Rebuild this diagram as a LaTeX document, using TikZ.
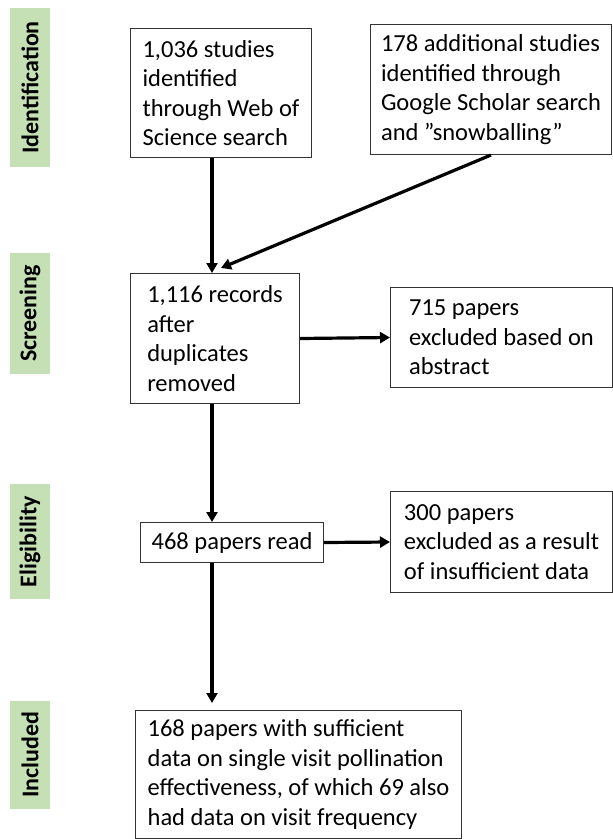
\documentclass[tikz,border=0pt]{standalone}
\usepackage{fontspec}
\setmainfont{Carlito}
\usetikzlibrary{arrows.meta,positioning}
\definecolor{stagegreen}{HTML}{C5E0B4}

\begin{document}
\begin{tikzpicture}[x=1pt, y=-1pt,
  font=\fontsize{24.5}{29.5}\selectfont,
  box/.style={draw=black!80, line width=1pt, align=left, anchor=north west, inner sep=0pt},
  stage/.style={fill=stagegreen, rotate=90, minimum height=40pt, inner sep=0pt, font=\fontsize{24}{28}\selectfont\bfseries},
  arr/.style={-{Triangle[length=10pt, width=11pt]}, line width=3.2pt}
]
\useasboundingbox (0,0) rectangle (613,839);
% stages on the left
\node[stage, minimum width=159pt] (ident) at (30,87.5) {Identification};
\node[stage, minimum width=121pt] (screen) at (30,313.5) {Screening};
\node[stage, minimum width=115pt] (elig) at (30,541.5) {Eligibility};
\node[stage, minimum width=108pt] (incl) at (30,755) {Included};
% flow boxes
\node[box, minimum width=181pt, minimum height=129pt] (wos) at (130,28) {1,036 studies\\identified\\through Web of\\Science search};
\node[box, minimum width=241pt, minimum height=130pt] (gs) at (370,24) {178 additional studies\\identified through\\Google Scholar search\\and ”snowballing”};
\node[box, minimum width=169pt, minimum height=130pt] (rec) at (130,273) {1,116 records\\after\\duplicates\\removed};
\node[box, minimum width=222pt, minimum height=100pt] (abs) at (390,287) {715 papers\\excluded based on\\abstract};
\node[box, minimum width=183pt, minimum height=40pt, align=center] (read) at (140,522) {468 papers read};
\node[box, minimum width=222pt, minimum height=101pt] (insuf) at (390,491) {300 papers\\excluded as a result\\of insufficient data};
\node[box, minimum width=326pt, minimum height=128pt] (incl) at (135,710) {168 papers with sufficient\\data on single visit pollination\\effectiveness, of which 69 also\\had data on visit frequency};
\coordinate (spine) at (212,0);
% arrows
\draw[arr] (wos.south -| spine) -- (rec.north -| spine);
\draw[arr] (gs.south) -- ([xshift=6pt, yshift=5pt]rec.north);
\draw[arr] (rec.east) -- (abs.west);
\draw[arr] (rec.south -| spine) -- (read.north -| spine);
\draw[arr] (read.east) -- (insuf.west);
\draw[arr, shorten >=7pt] (read.south -| spine) -- (incl.north -| spine);
\end{tikzpicture}
\end{document}
